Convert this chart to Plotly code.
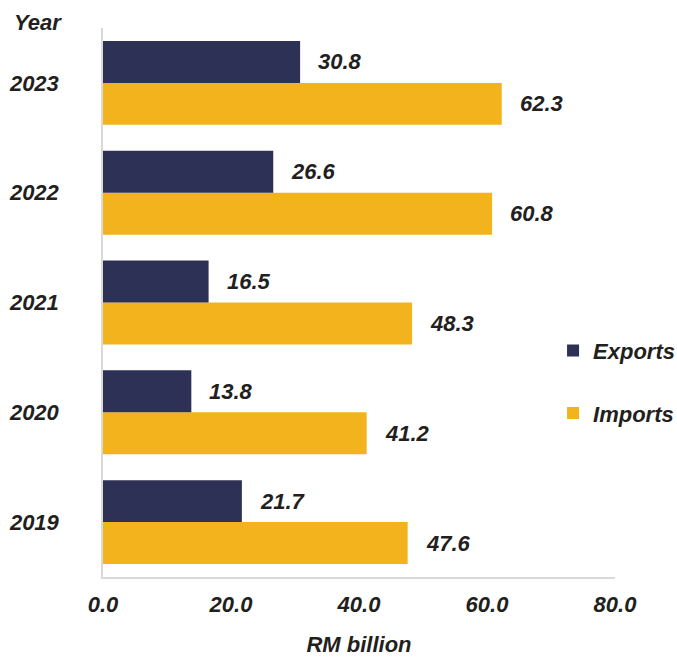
import plotly.graph_objects as go

years = ["2019", "2020", "2021", "2022", "2023"]
exports = [21.7, 13.8, 16.5, 26.6, 30.8]
imports = [47.6, 41.2, 48.3, 60.8, 62.3]
x_ticks = [0, 20, 40, 60, 80]
x_tick_labels = ["0.0", "20.0", "40.0", "60.0", "80.0"]

FONT = "Liberation Sans, Arial, sans-serif"
TEXT = "#231F20"
NAVY = "#2E3156"
GOLD = "#F2B31D"
SIZE = 22

fig = go.Figure()

# Imports first so it sits below Exports inside each year group
fig.add_trace(go.Bar(
    y=years, x=imports, name="Imports", orientation="h",
    marker=dict(color=GOLD, line=dict(width=0)),
    legendgroup="imp", legendrank=2,
))
fig.add_trace(go.Bar(
    y=years, x=exports, name="Exports", orientation="h",
    marker=dict(color=NAVY, line=dict(width=0)),
    legendgroup="exp", legendrank=1,
))

label_font = dict(family=FONT, size=SIZE, color=TEXT, weight="bold", style="italic")
annotations = []
# value labels: category index on the y axis, nudged onto each bar's centre line
for i, (ex, im) in enumerate(zip(exports, imports)):
    annotations.append(dict(x=ex, y=i, text=f"{ex:.1f}", showarrow=False,
                            xanchor="left", yanchor="middle", xshift=16, yshift=21,
                            font=label_font))
    annotations.append(dict(x=im, y=i, text=f"{im:.1f}", showarrow=False,
                            xanchor="left", yanchor="middle", xshift=16, yshift=-21,
                            font=label_font))
annotations.append(dict(x=0, y=1.0, xref="paper", yref="paper", text="Year",
                        showarrow=False, xanchor="left", yanchor="middle",
                        xshift=-91, yshift=6, font=label_font))

fig.update_layout(
    width=677, height=657,
    margin=dict(l=103, r=62, t=28, b=80, autoexpand=False),
    paper_bgcolor="white", plot_bgcolor="white",
    barmode="group", bargap=0.236, bargroupgap=0,
    font=dict(family=FONT, size=SIZE, color=TEXT),
    showlegend=True,
    legend=dict(
        x=0.879, y=0.355, xanchor="left", yanchor="middle",
        font=dict(family=FONT, size=SIZE, color=TEXT, weight="bold", style="italic"),
        tracegroupgap=31, bgcolor="rgba(0,0,0,0)", borderwidth=0,
    ),
    annotations=annotations,
    xaxis=dict(
        range=[0, 80], tickvals=x_ticks, ticktext=x_tick_labels,
        showgrid=False, zeroline=False, showline=True, linecolor="#D9D9D9", linewidth=1.5,
        ticks="", ticklabelstandoff=7,
        tickfont=dict(family=FONT, size=SIZE, color=TEXT, weight="bold", style="italic"),
        title=dict(text="RM billion", standoff=31,
                   font=dict(family=FONT, size=SIZE, color=TEXT, weight="bold", style="italic")),
    ),
    yaxis=dict(
        type="category", categoryorder="array", categoryarray=years,
        range=[-0.5, len(years) - 0.5],
        showgrid=False, zeroline=False, showline=True, linecolor="#D9D9D9", linewidth=1.5,
        ticks="", ticklabelstandoff=38,
        tickfont=dict(family=FONT, size=SIZE, color=TEXT, weight="bold", style="italic"),
    ),
)

fig.write_html("out.html")
